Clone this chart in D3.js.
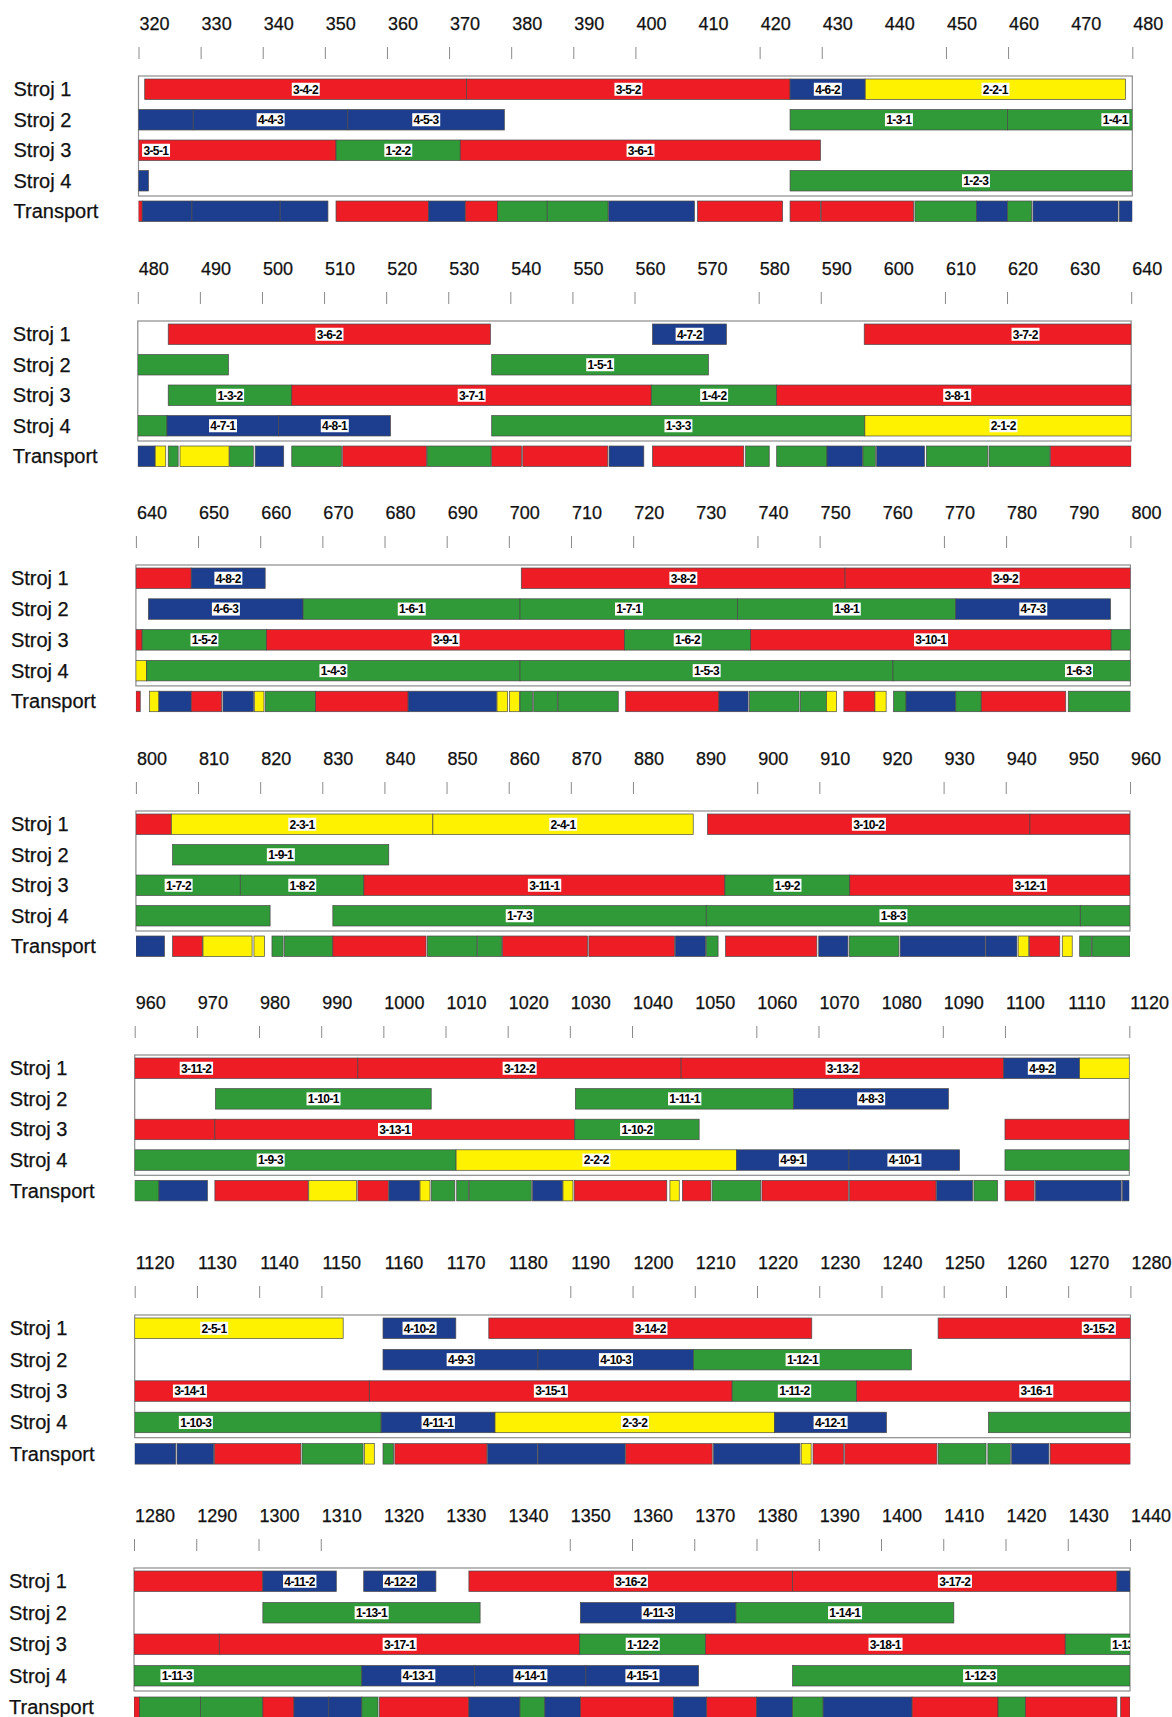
<!DOCTYPE html>
<html><head><meta charset="utf-8">
<script src="https://cdn.jsdelivr.net/npm/d3@7"></script>
<style>body{margin:0;background:#fff}</style>
</head><body>
<script>
// ---------------- DATA ----------------
const machines = ["Stroj 1", "Stroj 2", "Stroj 3", "Stroj 4", "Transport"];
const panelStarts = [320, 480, 640, 800, 960, 1120, 1280];
const panelSpan = 160;
const tickStep = 10;
// tick marks that are not drawn (labels still shown)
const missingTicks = [410, 440, 470, 570, 600, 630, 730, 760, 790, 890, 920, 950,
  1050, 1080, 1110, 1160, 1170, 1180, 1320, 1330, 1340];
// job type (first digit of label) -> colour
const typeColors = {1: "#2f9a37", 2: "#fff200", 3: "#ee1c24", 4: "#1d3e8f"};

// [label, start, end]
const stroj1 = [
  ["3-4-2", 321, 372.8], ["3-5-2", 372.8, 424.9], ["4-6-2", 424.9, 437], ["2-2-1", 437, 478.9],
  ["3-6-2", 484.9, 536.8], ["4-7-2", 562.9, 574.8], ["3-7-2", 597, 648.9], ["4-8-2", 648.9, 660.8],
  ["3-8-2", 702, 754.1], ["3-9-2", 754.1, 805.7], ["2-3-1", 805.7, 847.8], ["2-4-1", 847.8, 889.7],
  ["3-10-2", 892, 943.9], ["3-11-2", 943.9, 995.9], ["3-12-2", 995.9, 1047.9], ["3-13-2", 1047.9, 1099.8],
  ["4-9-2", 1099.8, 1112], ["2-5-1", 1112, 1153.5], ["4-10-2", 1159.9, 1171.6], ["3-14-2", 1176.9, 1228.8],
  ["3-15-2", 1249.1, 1300.7], ["4-11-2", 1300.7, 1312.5], ["4-12-2", 1316.9, 1328.5],
  ["3-16-2", 1333.8, 1385.8], ["3-17-2", 1385.8, 1437.9], ["4-13-2", 1437.9, 1460]
];
const stroj2 = [
  ["4-3-3", 300, 328.8], ["4-4-3", 328.8, 353.7], ["4-5-3", 353.7, 378.9], ["1-3-1", 424.9, 459.9],
  ["1-4-1", 459.9, 494.6], ["1-5-1", 537, 571.9], ["4-6-3", 642, 666.9], ["1-6-1", 666.9, 701.8],
  ["1-7-1", 701.8, 736.8], ["1-8-1", 736.8, 771.9], ["4-7-3", 771.9, 796.8], ["1-9-1", 805.9, 840.7],
  ["1-10-1", 973, 1007.7], ["1-11-1", 1030.9, 1066], ["4-8-3", 1066, 1090.9], ["4-9-3", 1159.9, 1184.8],
  ["4-10-3", 1184.8, 1209.8], ["1-12-1", 1209.8, 1244.8], ["1-13-1", 1300.7, 1335.6],
  ["4-11-3", 1351.7, 1376.7], ["1-14-1", 1376.7, 1411.7]
];
const stroj3 = [
  ["3-5-1", 293.8, 351.8], ["1-2-2", 351.8, 371.8], ["3-6-1", 371.8, 429.8], ["1-3-2", 484.9, 504.8],
  ["3-7-1", 504.8, 562.7], ["1-4-2", 562.7, 582.9], ["3-8-1", 582.9, 641], ["1-5-2", 641, 661],
  ["3-9-1", 661, 718.6], ["1-6-2", 718.6, 738.9], ["3-10-1", 738.9, 796.9], ["1-7-2", 796.9, 816.8],
  ["1-8-2", 816.8, 836.7], ["3-11-1", 836.7, 894.8], ["1-9-2", 894.8, 914.9], ["3-12-1", 914.9, 972.9],
  ["3-13-1", 972.9, 1030.8], ["1-10-2", 1030.8, 1050.8], ["3-14-1", 1100, 1157.7], ["3-15-1", 1157.7, 1216],
  ["1-11-2", 1216, 1236], ["3-16-1", 1236, 1293.7], ["3-17-1", 1293.7, 1351.6], ["1-12-2", 1351.6, 1371.8],
  ["3-18-1", 1371.8, 1429.6], ["1-13-2", 1429.6, 1449.6]
];
const stroj4 = [
  ["4-5-1", 303.6, 321.6], ["1-2-3", 424.9, 484.7], ["4-7-1", 484.7, 502.7], ["4-8-1", 502.7, 520.7],
  ["1-3-3", 537, 597.1], ["2-1-2", 597.1, 641.7], ["1-4-3", 641.7, 701.8], ["1-5-3", 701.8, 761.8],
  ["1-6-3", 761.8, 821.6], ["1-7-3", 831.7, 891.8], ["1-8-3", 891.8, 952], ["1-9-3", 952, 1011.7],
  ["2-2-2", 1011.7, 1056.8], ["4-9-1", 1056.8, 1074.9], ["4-10-1", 1074.9, 1092.7], ["1-10-3", 1100, 1159.6],
  ["4-11-1", 1159.6, 1177.9], ["2-3-2", 1177.9, 1222.8], ["4-12-1", 1222.8, 1240.8], ["1-11-3", 1257.2, 1316.6],
  ["4-13-1", 1316.6, 1334.7], ["4-14-1", 1334.7, 1352.6], ["4-15-1", 1352.6, 1370.7], ["1-12-3", 1385.8, 1446]
];
// [type, start, end]
const transport = [
  [3, 318, 320.6], [4, 320.6, 328.6], [4, 328.6, 342.8], [4, 342.8, 350.5], [3, 351.8, 366.7], [4, 366.7, 372.6],
  [3, 372.6, 377.8], [1, 377.8, 385.8], [1, 385.8, 395.6], [4, 395.7, 409.5], [3, 410, 423.7], [3, 424.9, 429.8],
  [3, 429.9, 444.8], [1, 445, 454.9], [4, 454.9, 459.9], [1, 459.9, 463.8], [4, 464, 477.7], [4, 477.9, 482.8],
  [2, 482.8, 484.5], [1, 484.9, 486.5], [2, 486.8, 494.7], [1, 494.8, 498.6], [4, 498.9, 503.5], [1, 504.8, 512.8],
  [3, 513, 526.5], [1, 526.6, 536.9], [3, 537, 541.8], [3, 542, 555.7], [4, 555.9, 561.5], [3, 562.9, 577.6],
  [1, 577.9, 581.7], [1, 582.9, 591], [4, 591, 596.7], [1, 596.8, 598.8], [4, 599, 606.7], [1, 607, 616.9],
  [1, 617.1, 626.9], [3, 627, 640.7],
  [2, 642.2, 643.7], [4, 643.7, 648.9], [3, 648.9, 653.8], [4, 654, 658.9], [2, 659.1, 660.6], [1, 660.8, 668.9],
  [3, 668.9, 683.8], [4, 683.8, 698], [2, 698.1, 699.8], [2, 700.1, 701.7], [1, 701.8, 703.8], [1, 704, 707.8],
  [1, 707.9, 717.6], [3, 718.8, 733.8], [4, 733.8, 738.5], [1, 738.7, 746.7], [1, 746.9, 751.1], [2, 751.1, 752.7],
  [3, 753.9, 758.9], [2, 758.9, 760.7], [1, 761.9, 763.9], [4, 763.9, 771.9], [1, 771.9, 776], [3, 776, 789.6],
  [1, 790, 800],
  [4, 800, 804.6], [3, 805.9, 810.7], [2, 810.8, 818.7], [2, 819, 820.7], [1, 821.9, 823.7], [1, 823.9, 831.7],
  [3, 831.7, 846.7], [1, 846.9, 854.9], [1, 855, 858.9], [3, 859, 872.7], [3, 872.9, 886.7], [4, 886.8, 891.7],
  [1, 891.8, 893.7], [3, 894.9, 909.6], [4, 909.9, 914.6], [1, 914.8, 922.8], [4, 923, 936.7], [4, 936.8, 941.8],
  [2, 942, 943.7], [3, 943.8, 948.7], [2, 949.1, 950.7], [1, 951.9, 953.8], [1, 953.9, 963.9],
  [4, 963.9, 971.7], [3, 972.9, 987.9], [2, 988, 995.7], [3, 995.9, 1000.8], [4, 1000.9, 1005.8],
  [2, 1005.9, 1007.5], [1, 1007.7, 1011.5], [1, 1011.8, 1013.7], [1, 1013.8, 1023.8], [4, 1024, 1028.8],
  [2, 1028.9, 1030.5], [3, 1030.7, 1045.6], [2, 1046.1, 1047.6], [3, 1048.1, 1052.7], [1, 1052.9, 1060.7],
  [3, 1060.9, 1074.8], [3, 1075, 1088.9], [4, 1089, 1094.8], [1, 1095, 1098.8], [3, 1100, 1104.7],
  [4, 1104.9, 1118.7], [4, 1118.9, 1126.6],
  [4, 1126.8, 1132.7], [3, 1132.8, 1146.7], [1, 1146.9, 1156.7], [2, 1156.9, 1158.5], [1, 1159.9, 1161.6],
  [3, 1161.8, 1176.6], [4, 1176.7, 1184.7], [4, 1184.8, 1198.8], [3, 1198.9, 1212.8], [4, 1213, 1226.9],
  [2, 1227.1, 1228.7], [3, 1229, 1233.9], [3, 1234.1, 1248.9], [1, 1249.1, 1256.8], [1, 1257.1, 1260.7],
  [4, 1260.9, 1266.9], [3, 1267.1, 1280.9],
  [1, 1280.9, 1290.7], [1, 1290.7, 1300.7], [3, 1300.7, 1305.7], [4, 1305.7, 1311.3], [4, 1311.3, 1316.6],
  [1, 1316.6, 1319.2], [3, 1319.4, 1333.8], [4, 1333.8, 1342], [1, 1342, 1346], [4, 1346, 1351.7],
  [3, 1351.7, 1366.7], [4, 1366.7, 1372], [3, 1372, 1380], [4, 1380, 1385.8], [1, 1385.8, 1390.7],
  [4, 1390.7, 1405], [3, 1405, 1418.8], [1, 1418.8, 1423.2], [3, 1423.2, 1437.9], [3, 1438.5, 1440]
];

// ---------------- LAYOUT ----------------
const W = 1172, H = 1717;
const panelTop = [79, 324, 568, 814, 1058, 1318, 1571];   // top of Stroj 1 bar
const panelPitch = [30.5, 30.5, 30.8, 30.5, 30.6, 31.4, 31.5];
const panelX0 = [138.5, 137.8, 135.9, 135.9, 134.7, 134.7, 134];
const panelX1 = [1132.3, 1131.2, 1130.4, 1130, 1129.3, 1130.4, 1130];
const barH = 20.5;
const font = "'Liberation Sans', Arial, sans-serif";

const rows = [stroj1, stroj2, stroj3, stroj4].map(r => r.map(([label, s, e]) => ({label, s, e, type: +label[0]})));
rows.push(transport.map(([type, s, e]) => ({label: null, s, e, type})));

const svg = d3.select("body").append("svg").attr("width", W).attr("height", H)
  .style("font-family", font);

panelStarts.forEach((ps, p) => {
  const pe = ps + panelSpan;
  const B = panelTop[p];
  const pitch = panelPitch[p];
  const x = d3.scaleLinear().domain([ps, pe]).range([panelX0[p], panelX1[p]]);
  const g = svg.append("g");

  const allTicks = d3.range(ps, pe + 1, tickStep);
  // tick labels
  const la = g.append("g").attr("transform", `translate(0,${B - 49})`)
    .call(d3.axisTop(x).tickValues(allTicks).tickSize(0).tickPadding(0).tickFormat(d3.format("d")));
  la.select(".domain").remove();
  la.selectAll("text").attr("text-anchor", "start").attr("dx", 0.5).attr("dy", 0)
    .attr("fill", "#111").style("font-size", "18px").style("font-family", font)
    .attr("stroke", "#111").attr("stroke-width", 0.25);
  // tick marks
  const ta = g.append("g").attr("transform", `translate(0,${B - 20})`)
    .call(d3.axisTop(x).tickValues(allTicks.filter(t => !missingTicks.includes(t))).tickSize(12).tickFormat(""));
  ta.select(".domain").remove();
  ta.selectAll("line").attr("stroke", "#8a8a8a").attr("stroke-width", 1);

  // frame around machine rows
  const frameH = 3 * pitch + barH + 8;
  g.append("rect").attr("x", x(ps)).attr("y", B - 3).attr("width", x(pe) - x(ps)).attr("height", frameH)
    .attr("fill", "none").attr("stroke", "#8c8c8c").attr("stroke-width", 1.2);

  // clip
  const cid = "clip" + p;
  svg.append("clipPath").attr("id", cid).append("rect")
    .attr("x", x(ps)).attr("y", B - 10).attr("width", x(pe) - x(ps)).attr("height", 170);

  rows.forEach((tasks, r) => {
    const y = B + r * pitch;
    g.append("text").attr("x", panelX0[p] - 125).attr("y", y + barH / 2 + 7)
      .text(machines[r]).style("font-size", "20px").attr("fill", "#111")
      .attr("stroke", "#111").attr("stroke-width", 0.25);
    const vis = tasks.filter(d => d.e > ps && d.s < pe);
    const cg = g.append("g").attr("clip-path", `url(#${cid})`);
    cg.selectAll("rect.bar").data(vis).join("rect").attr("class", "bar")
      .attr("x", d => x(Math.max(d.s, ps)))
      .attr("y", y)
      .attr("width", d => x(Math.min(d.e, pe)) - x(Math.max(d.s, ps)))
      .attr("height", barH)
      .attr("fill", d => typeColors[d.type])
      .attr("stroke", "#4a4a4a").attr("stroke-width", 0.7);
    vis.filter(d => d.label && (d.s + d.e) / 2 > ps - 2.5 && (d.s + d.e) / 2 < pe + 2.5).forEach(d => {
      const cx = x((d.s + d.e) / 2);
      const lg = cg.append("g");
      const t = lg.append("text").attr("x", cx).attr("y", y + barH / 2 + 4.3)
        .attr("text-anchor", "middle").text(d.label)
        .style("font-size", "12px").style("font-weight", "bold").style("letter-spacing", "-0.6px")
        .attr("fill", "#000");
      const bb = t.node().getBBox();
      lg.insert("rect", "text").attr("x", bb.x - 1.3).attr("y", y + barH / 2 - 6.5)
        .attr("width", bb.width + 2).attr("height", 13).attr("fill", "#fff");
    });
  });
});
</script>
</body></html>
